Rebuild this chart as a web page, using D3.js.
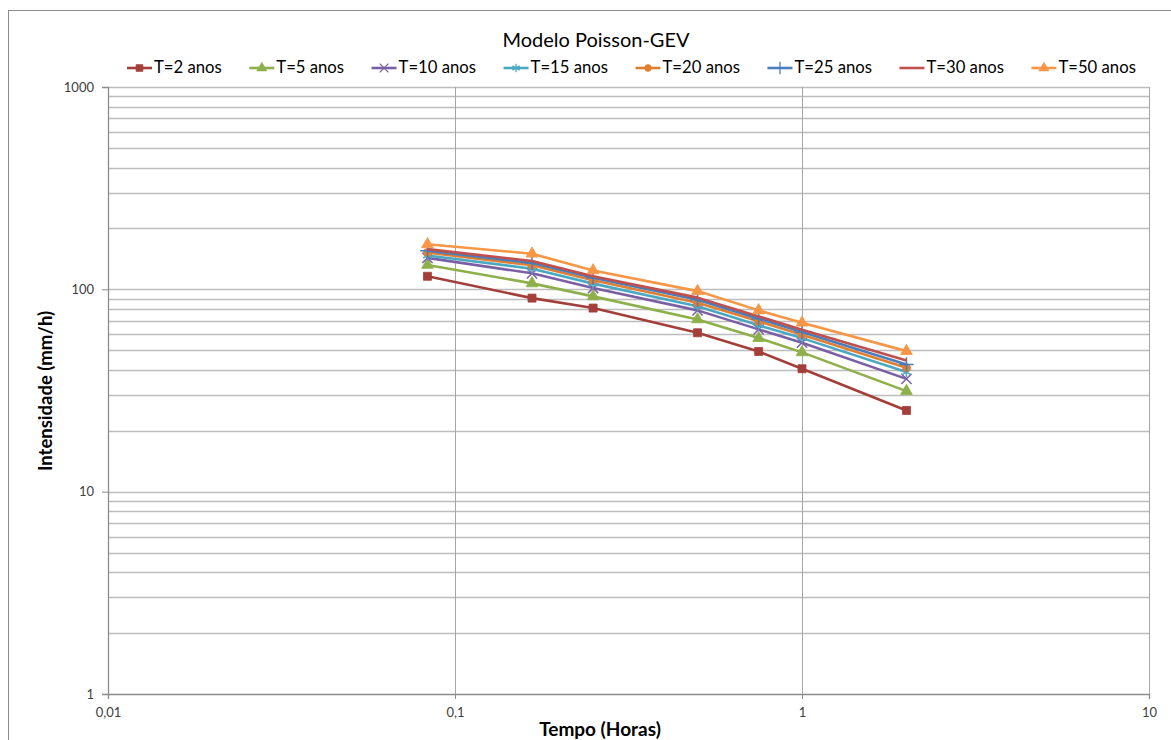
<!DOCTYPE html>
<html>
<head>
<meta charset="utf-8">
<script src="https://cdn.jsdelivr.net/npm/d3@7"></script>
<style>
  body { margin: 0; background: #fff; }
  text { font-family: Lato, "Open Sans", sans-serif; }
</style>
</head>
<body>
<svg width="1171" height="740"></svg>
<script>
// durações (horas)
const durations = [0.0833, 0.1667, 0.25, 0.5, 0.75, 1, 2];

// intensidades por período de retorno
const t2 = [116, 90.5, 80.8, 61.0, 49.3, 40.5, 25.2];
const t5 = [132, 107, 92.3, 71.0, 57.4, 48.8, 31.4];
const t10 = [143, 120, 101.5, 78.7, 63.4, 54.5, 36.1];
const t15 = [147, 126.5, 106.7, 82.4, 66.4, 57.4, 39.0];
const t20 = [152, 131.5, 110.8, 85.9, 69.5, 59.6, 41.0];
const t25 = [155, 135, 114, 88.9, 71.6, 61.5, 42.5];
const t30 = [158, 138, 116, 91, 73.5, 63.2, 44.5];
const t50 = [167, 150, 124, 98, 78.7, 68.4, 49.5];

const seriesNames = ['T=2 anos', 'T=5 anos', 'T=10 anos', 'T=15 anos', 'T=20 anos', 'T=25 anos', 'T=30 anos', 'T=50 anos'];
const seriesValues = [t2, t5, t10, t15, t20, t25, t30, t50];
const colors = ['#a33f3b', '#8db04a', '#7b5fa4', '#4aa8c2', '#e07f32', '#4a7ebb', '#c0504d', '#f79646'];
const markers = ['square', 'triangle', 'x', 'star', 'circle', 'plus', 'none', 'triangle'];

const xTicks = [0.01, 0.1, 1, 10];
const xTickLabels = ['0,01', '0,1', '1', '10'];
const yTicks = [1, 10, 100, 1000];

const svg = d3.select('svg');
const margin = {top: 87, right: 22, bottom: 46, left: 108};
const width = +svg.attr('width');
const height = +svg.attr('height');
const innerWidth = width - margin.left - margin.right;
const innerHeight = height - margin.top - margin.bottom;

// moldura do gráfico
svg.append('rect')
    .attr('x', 8.5).attr('y', 10.5)
    .attr('width', 1200).attr('height', 800)
    .attr('fill', 'none').attr('stroke', '#8c8c8c');

const xscale = d3.scaleLog().domain([0.01, 10]).range([0, innerWidth]);
const yscale = d3.scaleLog().domain([1, 1000]).range([innerHeight, 0]);

const g = svg.append('g')
    .attr('transform', `translate(${margin.left}, ${margin.top})`);

// linhas de grade horizontais (principais e secundárias)
const yGrid = [];
[1, 10, 100].forEach(dec => {
    for (let k = 2; k <= 10; k++) yGrid.push(dec * k);
});
g.append('g').selectAll('line').data(yGrid).enter().append('line')
    .attr('x1', 0).attr('x2', innerWidth)
    .attr('y1', d => Math.round(yscale(d)) + 0.5)
    .attr('y2', d => Math.round(yscale(d)) + 0.5)
    .attr('stroke', '#bdbdbd').attr('stroke-width', 1.6);

// linhas de grade verticais
g.append('g').selectAll('line').data(xTicks.slice(1)).enter().append('line')
    .attr('x1', d => Math.round(xscale(d)) + 0.5)
    .attr('x2', d => Math.round(xscale(d)) + 0.5)
    .attr('y1', 0).attr('y2', innerHeight)
    .attr('stroke', '#a6a6a6').attr('stroke-width', 1);

// eixos
const yAxis = d3.axisLeft(yscale).tickValues(yTicks).tickFormat(d3.format('d')).tickSize(6).tickPadding(8);
const xAxis = d3.axisBottom(xscale).tickValues(xTicks).tickFormat((d, i) => xTickLabels[i]).tickSize(5).tickPadding(9);

const ya = g.append('g').call(yAxis);
const xa = g.append('g').attr('transform', `translate(0, ${innerHeight})`).call(xAxis);
[ya, xa].forEach(a => {
    a.select('.domain').attr('stroke', '#8c8c8c').attr('stroke-width', 1.3);
    a.selectAll('.tick line').attr('stroke', '#8c8c8c');
    a.selectAll('.tick text').attr('fill', '#404040').style('font-size', '13px');
});

// símbolos
const symbolFor = {
    square: d3.symbolSquare, triangle: d3.symbolTriangle, circle: d3.symbolCircle,
    x: d3.symbolTimes, plus: d3.symbolPlus, star: d3.symbolAsterisk
};
function drawMarker(sel, type, color) {
    if (type === 'none') return;
    const open = type === 'x' || type === 'plus' || type === 'star';
    const size = type === 'square' ? 64 : type === 'triangle' ? 60 : type === 'circle' ? 50 : 70;
    const p = d3.symbol().type(symbolFor[type]).size(size)();
    sel.append('path').attr('d', p)
        .attr('fill', open ? 'none' : color)
        .attr('stroke', color)
        .attr('stroke-width', open ? 1.5 : 0.8);
}

const line = d3.line()
    .x((d, i) => xscale(durations[i]))
    .y(d => yscale(d));

seriesValues.forEach((vals, s) => {
    const sg = g.append('g');
    sg.append('path').datum(vals)
        .attr('d', line)
        .attr('fill', 'none')
        .attr('stroke', colors[s])
        .attr('stroke-width', 2.6)
        .attr('stroke-linejoin', 'round');
    vals.forEach((v, i) => {
        const m = sg.append('g').attr('transform', `translate(${xscale(durations[i])}, ${yscale(v)})`);
        drawMarker(m, markers[s], colors[s]);
    });
});

// título
svg.append('text')
    .attr('x', 596).attr('y', 47)
    .attr('text-anchor', 'middle')
    .style('font-size', '20px').attr('fill', '#000')
    .text('Modelo Poisson-GEV');

// legenda
const legend = svg.append('g').attr('transform', 'translate(127, 68)');
let lx = 0;
seriesNames.forEach((name, s) => {
    const item = legend.append('g').attr('transform', `translate(${lx}, 0)`);
    item.append('line').attr('x1', 0).attr('x2', 25).attr('y1', 0).attr('y2', 0)
        .attr('stroke', colors[s]).attr('stroke-width', 2.6);
    const m = item.append('g').attr('transform', 'translate(12.5, 0) scale(0.85)');
    drawMarker(m, markers[s], colors[s]);
    const t = item.append('text').attr('x', 27).attr('y', 5)
        .style('font-size', '16.7px').attr('fill', '#000').text(name);
    lx += 27 + t.node().getComputedTextLength() + 27.5;
});

// títulos dos eixos
svg.append('text')
    .attr('transform', 'translate(52, 391) rotate(-90)')
    .attr('text-anchor', 'middle')
    .style('font-size', '18.5px').style('font-weight', 'bold')
    .text('Intensidade (mm/h)');

svg.append('text')
    .attr('x', 600).attr('y', 736)
    .attr('text-anchor', 'middle')
    .style('font-size', '19px').style('font-weight', 'bold')
    .text('Tempo (Horas)');
</script>
</body>
</html>
